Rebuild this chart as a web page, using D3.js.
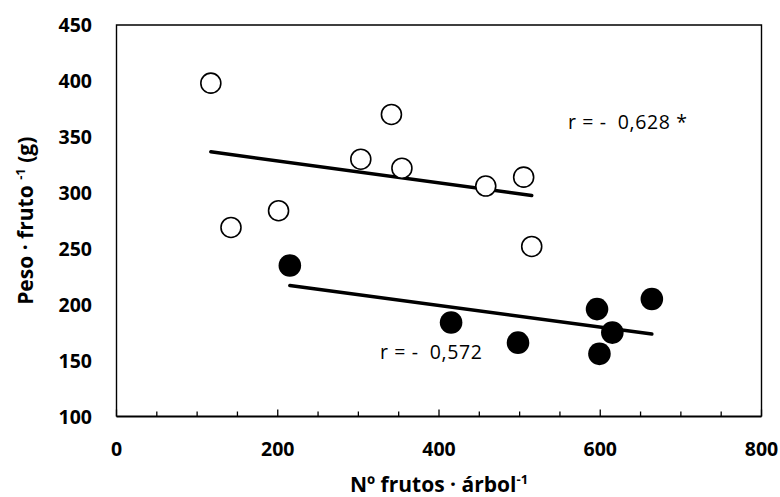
<!DOCTYPE html>
<html>
<head>
<meta charset="utf-8">
<script src="https://cdn.jsdelivr.net/npm/d3@7"></script>
<style>
  body { margin: 0; background: #fff; }
  text { font-family: "Open Sans", "DejaVu Sans", sans-serif; }
</style>
</head>
<body>
<svg width="780" height="497"></svg>
<script>
// Open circles (upper group).
var openX = [117, 142, 201, 303, 341, 354, 458, 505, 515];
var openY = [398, 269, 284, 330, 370, 322, 306, 314, 252];

// Filled circles (lower group).
var filledX = [215, 415, 498, 596, 615, 599, 664];
var filledY = [235, 184, 166, 196, 175, 156, 205];

// Axis ticks.
var xTicks = [0, 200, 400, 600, 800];
var xMinor = d3.range(0, 801, 50);
var yTicks = [100, 150, 200, 250, 300, 350, 400, 450];

// Correlation labels.
var labelOpen = "r = -  0,628 *";
var labelFilled = "r = -  0,572";

var svg = d3.select("svg");

var x = d3.scaleLinear().domain([0, 800]).range([116.5, 761.5]);
var y = d3.scaleLinear().domain([100, 450]).range([416.5, 25]);

// least squares fit, drawn over the range of the data
function fitLine(xs, ys) {
    var mx = d3.mean(xs), my = d3.mean(ys);
    var sxy = d3.sum(xs, (v, i) => (v - mx) * (ys[i] - my));
    var sxx = d3.sum(xs, v => (v - mx) * (v - mx));
    var b = sxy / sxx, a = my - b * mx;
    var x0 = d3.min(xs), x1 = d3.max(xs);
    return [[x0, a + b * x0], [x1, a + b * x1]];
}

// plot frame (top, left, right)
svg.append("path")
    .attr("d", "M" + x(0) + "," + y(100) + "V" + y(450) + "H" + x(800) + "V" + y(100))
    .attr("fill", "none")
    .attr("stroke", "#000")
    .attr("stroke-width", 1.4);

// x axis ticks (inside, pointing up)
svg.selectAll(".xminor")
    .data(xMinor)
    .enter().append("line")
    .attr("x1", d => x(d)).attr("x2", d => x(d))
    .attr("y1", y(100))
    .attr("y2", d => y(100) - (d % 200 === 0 ? 7 : 5))
    .attr("stroke", "#000")
    .attr("stroke-width", 1.3);

// x axis line
svg.append("line")
    .attr("x1", x(0)).attr("x2", x(800))
    .attr("y1", y(100)).attr("y2", y(100))
    .attr("stroke", "#000")
    .attr("stroke-width", 2.2);

// tick labels
svg.selectAll(".xlab")
    .data(xTicks)
    .enter().append("text")
    .attr("x", d => x(d))
    .attr("y", 455.5)
    .attr("text-anchor", "middle")
    .attr("font-size", 19.5)
    .attr("font-weight", "bold")
    .text(d => d);

svg.selectAll(".ylab")
    .data(yTicks)
    .enter().append("text")
    .attr("x", 92)
    .attr("y", d => y(d) + 7)
    .attr("text-anchor", "end")
    .attr("font-size", 19.5)
    .attr("font-weight", "bold")
    .text(d => d);

// axis titles
var xt = svg.append("text")
    .attr("x", x(400))
    .attr("y", 491.5)
    .attr("text-anchor", "middle")
    .attr("font-size", 21)
    .attr("font-weight", "bold");
xt.append("tspan").text("Nº frutos · árbol");
xt.append("tspan").attr("dy", -8).attr("font-size", 13).text("-1");

var yt = svg.append("text")
    .attr("transform", "translate(33," + y(275) + ") rotate(-90)")
    .attr("text-anchor", "middle")
    .attr("font-size", 21)
    .attr("font-weight", "bold");
yt.append("tspan").text("Peso · fruto ");
yt.append("tspan").attr("dy", -8).attr("font-size", 13).text("-1");
yt.append("tspan").attr("dy", 8).text(" (g)");

// trend lines
var line = d3.line().x(d => x(d[0])).y(d => y(d[1]));
[fitLine(openX, openY), fitLine(filledX, filledY)].forEach(function (pts) {
    svg.append("path")
        .attr("d", line(pts))
        .attr("fill", "none")
        .attr("stroke", "#000")
        .attr("stroke-width", 3.5)
        .attr("stroke-linecap", "round");
});

// points
svg.selectAll(".open")
    .data(openX)
    .enter().append("circle")
    .attr("cx", d => x(d))
    .attr("cy", (d, i) => y(openY[i]))
    .attr("r", 10)
    .attr("fill", "#fff")
    .attr("stroke", "#000")
    .attr("stroke-width", 1.6);

svg.selectAll(".filled")
    .data(filledX)
    .enter().append("circle")
    .attr("cx", d => x(d))
    .attr("cy", (d, i) => y(filledY[i]))
    .attr("r", 11.3)
    .attr("fill", "#000");

// r labels
svg.append("text")
    .attr("x", 568).attr("y", 129)
    .attr("font-size", 19.5)
    .attr("letter-spacing", 0.6)
    .style("white-space", "pre")
    .text(labelOpen);

svg.append("text")
    .attr("x", 380).attr("y", 358.5)
    .attr("font-size", 19.5)
    .attr("letter-spacing", 0.6)
    .style("white-space", "pre")
    .text(labelFilled);
</script>
</body>
</html>
